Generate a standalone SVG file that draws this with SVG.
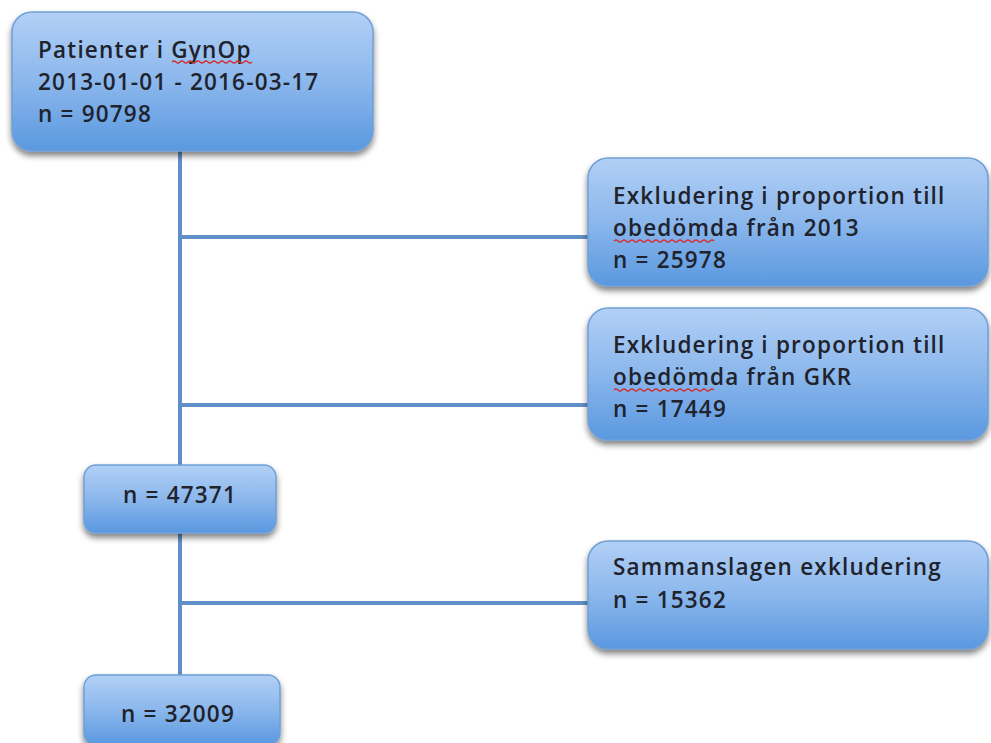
<svg xmlns="http://www.w3.org/2000/svg" width="991" height="743" viewBox="0 0 991 743">
<style>
.box{fill:url(#g);stroke:#6f9fd6;stroke-width:1.5;filter:url(#sh)}
.t{font-family:"Open Sans","Liberation Sans",Arial,sans-serif;font-size:22.5px;font-weight:600;letter-spacing:1.2px;fill:#20222c}
.c{stroke:#5f8fc8;stroke-width:4;fill:none}
.sq{stroke:#d03030;stroke-width:1.2;fill:none}
</style>
<defs>
<linearGradient id="g" x1="0" y1="0" x2="0" y2="1">
<stop offset="0" stop-color="#b2d0f6"/>
<stop offset="0.5" stop-color="#8bb7ec"/>
<stop offset="1" stop-color="#5a98e0"/>
</linearGradient>
<filter id="sh" x="-10%" y="-10%" width="120%" height="130%">
<feGaussianBlur in="SourceAlpha" stdDeviation="3"/>
<feOffset dy="4" result="b"/>
<feComponentTransfer><feFuncA type="linear" slope="0.5"/></feComponentTransfer>
<feMerge><feMergeNode/><feMergeNode in="SourceGraphic"/></feMerge>
</filter>
</defs>
<rect width="991" height="743" fill="#ffffff"/>
<g id="connectors">
<path class="c" d="M180 150 V467"/>
<path class="c" d="M180 531 V677"/>
<path class="c" d="M180 237 H590"/>
<path class="c" d="M180 405 H590"/>
<path class="c" d="M180 603 H590"/>
</g>
<g id="n1">
<rect class="box" x="12" y="12" width="361" height="139" rx="20"/>
<text class="t" x="38" y="58">Patienter i GynOp</text>
<text class="t" x="38" y="90">2013-01-01 - 2016-03-17</text>
<text class="t" x="38" y="122">n = 90798</text>
<path class="sq" d="M172 62 q2 -2 4 0 t4 0 t4 0 t4 0 t4 0 t4 0 t4 0 t4 0 t4 0 t4 0 t4 0 t4 0 t4 0 t4 0 t4 0 t4 0 t4 0 t4 0 t4 0 t4 0"/>
</g>
<g id="n2">
<rect class="box" x="588" y="158" width="400" height="128" rx="20"/>
<text class="t" x="613" y="204">Exkludering i proportion till</text>
<text class="t" x="613" y="236">obedömda från 2013</text>
<text class="t" x="613" y="268">n = 25978</text>
<path class="sq" d="M614 241 q2 -2 4 0 t4 0 t4 0 t4 0 t4 0 t4 0 t4 0 t4 0 t4 0 t4 0 t4 0 t4 0 t4 0 t4 0 t4 0 t4 0 t4 0 t4 0 t4 0 t4 0 t4 0 t4 0 t4 0 t4 0 t4 0"/>
</g>
<g id="n3">
<rect class="box" x="588" y="308" width="400" height="132" rx="20"/>
<text class="t" x="613" y="353">Exkludering i proportion till</text>
<text class="t" x="613" y="385">obedömda från GKR</text>
<text class="t" x="613" y="417">n = 17449</text>
<path class="sq" d="M614 390 q2 -2 4 0 t4 0 t4 0 t4 0 t4 0 t4 0 t4 0 t4 0 t4 0 t4 0 t4 0 t4 0 t4 0 t4 0 t4 0 t4 0 t4 0 t4 0 t4 0 t4 0 t4 0 t4 0 t4 0 t4 0 t4 0"/>
</g>
<g id="n4">
<rect class="box" x="84" y="465" width="192" height="68" rx="12"/>
<text class="t" x="180" y="503" text-anchor="middle">n = 47371</text>
</g>
<g id="n5">
<rect class="box" x="588" y="541" width="400" height="108" rx="20"/>
<text class="t" x="613" y="575">Sammanslagen exkludering</text>
<text class="t" x="613" y="608">n = 15362</text>
</g>
<g id="n6">
<rect class="box" x="84" y="675" width="196" height="70" rx="12"/>
<text class="t" x="178" y="722" text-anchor="middle">n = 32009</text>
</g>
</svg>
